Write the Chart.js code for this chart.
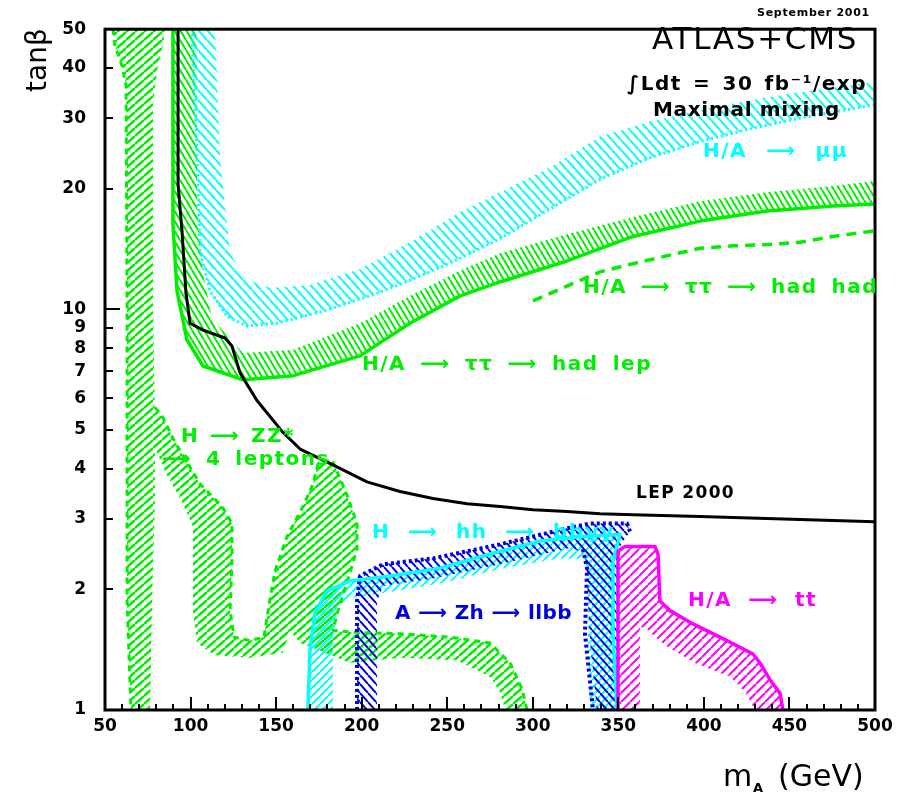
<!DOCTYPE html>
<html>
<head>
<meta charset="utf-8">
<script src="https://cdn.jsdelivr.net/npm/chart.js@4.4.0/dist/chart.umd.min.js"></script>
<style>
  html, body { margin: 0; padding: 0; background: #fff; }
  canvas { display: block; }
</style>
</head>
<body>
<canvas id="plot" width="906" height="794"></canvas>
<script>
// axis ticks
const xTicks = [50, 100, 150, 200, 250, 300, 350, 400, 450, 500];
const yTicks = [1, 2, 3, 4, 5, 6, 7, 8, 9, 10, 20, 30, 40, 50];

// LEP 2000 exclusion
const lepX = [92.7, 92.7, 95.0, 97.3, 99.7, 107.3, 120.1, 124.2, 128.9, 138.8, 154.0, 164.0, 183.2, 203.1, 222.4, 241.7, 261.6, 280.8, 300.1, 320.0, 339.3, 358.6, 397.7, 456.2, 500];
const lepY = [50, 20.5, 15.7, 11.0, 9.23, 8.87, 8.48, 8.10, 6.94, 5.92, 4.93, 4.48, 4.09, 3.71, 3.51, 3.37, 3.27, 3.22, 3.16, 3.13, 3.09, 3.07, 3.04, 2.99, 2.95];

// H/A -> mu mu band (boundary, then far edge)
const muLowX = [100.8, 103.8, 105.5, 111.4, 121.3, 133.0, 150.5, 179.7, 209.0, 238.2, 257.5, 280.8, 310.1, 339.3, 368.5, 397.7, 426.9, 456.2, 500];
const muLowY = [50, 23.9, 14.0, 11.1, 9.6, 9.08, 9.23, 9.95, 10.96, 12.3, 13.4, 15.0, 17.8, 21.1, 23.9, 26.2, 28.2, 30.0, 32.4];
const muHighX = [114.3, 117.2, 123.1, 131.8, 146.4, 169.8, 199.0, 228.2, 257.5, 280.8, 310.1, 339.3, 368.5, 397.7, 426.9, 456.2, 500];
const muHighY = [50, 23.9, 13.8, 11.9, 11.3, 11.5, 12.6, 14.7, 17.5, 19.6, 22.6, 27.0, 29.4, 31.4, 33.3, 34.8, 36.9];

// H/A -> tau tau -> had lep band
const tauLowX = [89.7, 89.7, 92.1, 97.9, 107.3, 130.6, 159.9, 199.0, 228.2, 257.5, 280.8, 320.0, 358.6, 397.7, 436.9, 475.4, 500];
const tauLowY = [50, 16.3, 11.1, 8.38, 7.22, 6.67, 6.83, 7.65, 9.23, 10.8, 11.7, 13.2, 15.2, 16.6, 17.6, 18.1, 18.3];
const tauHighX = [103.8, 103.8, 107.3, 112.5, 130.6, 159.9, 199.0, 228.2, 257.5, 280.8, 320.0, 358.6, 397.7, 436.9, 475.4, 500];
const tauHighY = [50, 18.3, 12.3, 9.5, 7.78, 7.92, 9.23, 10.8, 12.5, 13.8, 15.4, 17.0, 18.6, 19.6, 20.3, 20.9];

// H/A -> tau tau -> had had (dashed)
const tauHadX = [300.1, 323.5, 339.3, 358.6, 378.4, 397.7, 417.0, 436.9, 456.2, 475.4, 500];
const tauHadY = [10.5, 11.6, 12.4, 13.0, 13.6, 14.2, 14.4, 14.5, 14.7, 15.2, 15.7];

// H -> ZZ* -> 4 leptons, low-mass strip
const zzLeftOuterX = [54.7, 55.8, 59.9, 62.3, 62.9, 62.9, 65.2];
const zzLeftOuterY = [50, 45.5, 40.6, 36.2, 10.35, 1.87, 1];
const zzLeftInnerX = [76.3, 77.5, 79.2, 79.2, 78.1, 78.1, 80.4, 83.9, 85.1];
const zzLeftInnerY = [1, 1.87, 3.31, 5.22, 10.35, 32.4, 39.5, 45.5, 50];

// H -> ZZ* -> 4 leptons, U-shaped region
const zzOuterX = [79.2, 83.3, 90.9, 105.5, 118.4, 124.2, 124.2, 123.1, 125.4, 134.7, 142.9, 145.3, 149.3, 156.4, 165.7, 171.6, 174.5, 182.7, 190.3, 197.3, 197.3, 192.0, 186.2, 183.2, 199.0, 222.4, 251.6, 275.0, 286.7, 293.7, 296.6];
const zzOuterY = [5.69, 5.43, 4.66, 3.67, 3.22, 2.92, 2.35, 1.77, 1.52, 1.49, 1.52, 1.77, 2.22, 2.71, 3.22, 3.67, 4.11, 4.21, 3.54, 2.92, 2.52, 2.12, 1.77, 1.58, 1.56, 1.55, 1.52, 1.47, 1.31, 1.13, 1.0];
const zzInnerX = [283.8, 280.8, 275.0, 255.7, 222.4, 193.2, 178.6, 164.0, 158.1, 154.0, 134.7, 114.3, 103.8, 101.4, 101.4, 95.0, 85.1, 79.2];
const zzInnerY = [1.0, 1.11, 1.21, 1.33, 1.35, 1.31, 1.39, 1.47, 1.58, 1.39, 1.35, 1.37, 1.47, 1.77, 2.87, 3.31, 3.93, 4.53];

// H -> hh -> bb gamma gamma
const hhOuterX = [168.6, 169.8, 172.7, 179.7, 193.2, 216.6, 245.8, 275.0, 304.2, 329.3, 351.0, 346.9, 346.9, 349.2];
const hhOuterY = [1, 1.41, 1.75, 1.98, 2.10, 2.16, 2.26, 2.45, 2.64, 2.71, 2.74, 2.35, 1.55, 1];
const hhInnerX = [333.4, 332.3, 332.3, 330.5, 315.9, 280.8, 245.8, 216.6, 193.2, 185.6, 183.2, 183.2];
const hhInnerY = [1, 1.49, 2.16, 2.38, 2.39, 2.25, 2.07, 1.97, 1.90, 1.82, 1.49, 1];

// A -> Zh -> llbb
const zhOuterX = [197.3, 197.3, 199.0, 212.5, 241.7, 280.8, 320.0, 333.4, 355.1, 356.8, 351.0, 349.2, 349.2];
const zhOuterY = [1, 1.87, 2.16, 2.31, 2.39, 2.59, 2.84, 2.92, 2.92, 2.79, 2.56, 1.87, 1];
const zhInnerX = [337.5, 333.4, 331.7, 330.5, 320.0, 280.8, 241.7, 212.5, 209.0, 209.0];
const zhInnerY = [1, 1.49, 2.10, 2.49, 2.53, 2.31, 2.13, 2.04, 1.87, 1];
const zhRightX = [329.3, 331.7, 330.5, 335.2];
const zhRightY = [2.52, 2.26, 1.55, 1];

// H/A -> tt
const ttOuterX = [349.8, 349.8, 353.9, 371.4, 373.2, 374.3, 380.2, 393.6, 413.5, 428.7, 432.8, 438.6, 444.5, 446.2];
const ttOuterY = [1, 2.49, 2.56, 2.56, 2.45, 1.87, 1.77, 1.64, 1.49, 1.38, 1.31, 1.19, 1.10, 1];
const ttInnerX = [429.9, 424.0, 415.2, 394.8, 377.3, 367.3, 362.7, 362.7];
const ttInnerY = [1, 1.11, 1.21, 1.31, 1.45, 1.58, 1.62, 1];

const GREEN = '#00ee00', CYAN = '#00ffff', BLUE = '#0000e6', MAGENTA = '#ff00ff';
const ARROW = '\u27F6';

function pts(xs, ys) { return xs.map((x, i) => ({ x: x, y: ys[i] })); }
function rev(a) { return a.slice().reverse(); }

// diagonal hatch tile; dir 1 = "/", -1 = "\"
function hatch(color, dir, w, h, lw) {
  const c = document.createElement('canvas');
  c.width = w; c.height = h;
  const g = c.getContext('2d');
  g.strokeStyle = color;
  g.lineWidth = lw;
  g.beginPath();
  for (const o of [-w, 0, w]) {
    if (dir > 0) { g.moveTo(o, h); g.lineTo(o + w, 0); }
    else { g.moveTo(o, 0); g.lineTo(o + w, h); }
  }
  g.stroke();
  return g.createPattern(c, 'repeat');
}

function area(label, data, pattern) {
  return { label, data, fill: 'shape', backgroundColor: pattern, borderColor: 'rgba(0,0,0,0)', borderWidth: 0, pointRadius: 0 };
}
function edge(label, data, color, width, dash) {
  return { label, data, fill: false, borderColor: color, borderWidth: width, borderDash: dash || [], pointRadius: 0, borderJoinStyle: 'round' };
}

// stretch a label to the width it has in the original; extra room goes to the spaces
function fitText(ctx, str, x, y, w, font, color, even) {
  ctx.font = font;
  ctx.fillStyle = color;
  ctx.textAlign = 'left';
  ctx.textBaseline = 'middle';
  const n = Array.from(str).length;
  const spaces = (str.match(/ /g) || []).length;
  const m = ctx.measureText(str).width;
  if ('letterSpacing' in ctx) {
    let ls = (w - m) / n, ws = 0;
    if (!even && spaces && 'wordSpacing' in ctx) {
      ls = Math.max(-1, Math.min(1.5, ls));
      ws = (w - m - ls * n) / spaces;
    }
    ctx.letterSpacing = ls.toFixed(2) + 'px';
    if ('wordSpacing' in ctx) ctx.wordSpacing = ws.toFixed(2) + 'px';
    ctx.fillText(str, x, y);
    ctx.letterSpacing = '0px';
    if ('wordSpacing' in ctx) ctx.wordSpacing = '0px';
  } else {
    ctx.save();
    ctx.translate(x, y);
    ctx.scale(w / m, 1);
    ctx.fillText(str, 0, 0);
    ctx.restore();
  }
}

const frame = {
  id: 'frame',
  afterDraw(chart) {
    const { ctx, chartArea: a, scales } = chart;
    const xs = scales.x, ys = scales.y;
    ctx.save();
    ctx.strokeStyle = '#000';
    ctx.lineWidth = 2;
    ctx.beginPath();
    for (let v = xTicks[0]; v <= xTicks[xTicks.length - 1]; v += 10) {
      const px = Math.round(xs.getPixelForValue(v));
      const len = v % 50 === 0 ? 13 : 6;
      ctx.moveTo(px, a.bottom); ctx.lineTo(px, a.bottom - len);
    }
    yTicks.forEach(v => {
      const py = Math.round(ys.getPixelForValue(v));
      const len = v === 10 ? 15 : 8;
      ctx.moveTo(a.left, py); ctx.lineTo(a.left + len, py);
    });
    ctx.stroke();
    ctx.lineWidth = 3;
    ctx.strokeRect(a.left, a.top, a.right - a.left, a.bottom - a.top);

    const F = '"DejaVu Sans", sans-serif';
    const B = 'bold 20px ' + F;
    fitText(ctx, 'September 2001', 757, 13, 113, 'bold 11px ' + F, '#000', true);
    fitText(ctx, 'ATLAS+CMS', 652, 41, 206, '31px ' + F, '#000', true);
    fitText(ctx, '\u222BLdt = 30 fb\u207B\u00B9/exp', 627, 85, 240, B, '#000');
    fitText(ctx, 'Maximal mixing', 653, 111, 187, B, '#000', true);
    fitText(ctx, 'H/A ' + ARROW + ' \u03BC\u03BC', 703, 152, 145, B, CYAN);
    fitText(ctx, 'H/A ' + ARROW + ' \u03C4\u03C4 ' + ARROW + ' had had', 583, 288, 295, B, GREEN);
    fitText(ctx, 'H/A ' + ARROW + ' \u03C4\u03C4 ' + ARROW + ' had lep', 362, 365, 290, B, GREEN);
    fitText(ctx, 'H ' + ARROW + ' ZZ*', 181, 437, 114, B, GREEN);
    fitText(ctx, ARROW + ' 4 leptons', 162, 460, 168, B, GREEN);
    fitText(ctx, 'LEP 2000', 636, 494, 99, 'bold 17px ' + F, '#000');
    fitText(ctx, 'H ' + ARROW + ' hh ' + ARROW + ' bb\u03B3\u03B3', 372, 533, 243, B, CYAN);
    fitText(ctx, 'A ' + ARROW + ' Zh ' + ARROW + ' llbb', 395, 614, 177, B, BLUE);
    fitText(ctx, 'H/A ' + ARROW + ' tt', 688, 601, 129, B, MAGENTA);

    // axis titles
    ctx.fillStyle = '#000';
    ctx.textBaseline = 'alphabetic';
    ctx.textAlign = 'left';
    ctx.font = '30px ' + F;
    ctx.fillText('m', 723, 786);
    ctx.fillText('(GeV)', 778, 786);
    ctx.font = 'bold 13px ' + F;
    ctx.fillText('A', 753, 792);
    ctx.translate(46, 92);
    ctx.rotate(-Math.PI / 2);
    ctx.font = '28px ' + F;
    ctx.fillText('tan\u03B2', 0, 0);
    ctx.restore();
  }
};

const tickFont = { family: '"DejaVu Sans", sans-serif', size: 17, weight: 'bold' };

new Chart(document.getElementById('plot').getContext('2d'), {
  type: 'line',
  data: {
    datasets: [
      edge('LEP 2000', pts(lepX, lepY), '#000', 3),
      edge('H/A -> tt', pts(ttOuterX, ttOuterY), MAGENTA, 3.5),
      edge('H -> hh -> bbgg', pts(hhOuterX, hhOuterY), CYAN, 3.5),
      edge('A -> Zh -> llbb', pts(zhOuterX.slice(0, 10), zhOuterY.slice(0, 10)), BLUE, 4, [3, 3]),
      edge('A -> Zh -> llbb (right)', pts(zhRightX, zhRightY), BLUE, 4, [3, 3]),
      edge('H/A -> tautau had lep', pts(tauLowX, tauLowY), GREEN, 3.5),
      edge('H/A -> tautau had had', pts(tauHadX, tauHadY), GREEN, 3.5, [10, 7]),
      edge('H/A -> mumu', pts(muLowX, muLowY), CYAN, 3, [2, 3]),
      edge('H -> ZZ* edge', pts(zzOuterX, zzOuterY), GREEN, 3, [6, 5]),
      edge('H -> ZZ* strip edge', pts(zzLeftOuterX, zzLeftOuterY), GREEN, 3, [6, 5]),
      area('tt band', pts(ttOuterX.concat(ttInnerX), ttOuterY.concat(ttInnerY)), hatch(MAGENTA, 1, 9, 9, 2)),
      area('Zh band', pts(zhOuterX.concat(zhInnerX), zhOuterY.concat(zhInnerY)), hatch(BLUE, -1, 8, 9, 2)),
      area('hh band', pts(hhOuterX.concat(hhInnerX), hhOuterY.concat(hhInnerY)), hatch(CYAN, 1, 8, 8, 2)),
      area('mumu band', pts(muLowX.concat(rev(muHighX)), muLowY.concat(rev(muHighY))), hatch(CYAN, -1, 9, 10, 2)),
      area('tautau band', pts(tauLowX.concat(rev(tauHighX)), tauLowY.concat(rev(tauHighY))), hatch(GREEN, -1, 6, 10, 2)),
      area('ZZ band', pts(zzOuterX.concat(zzInnerX), zzOuterY.concat(zzInnerY)), hatch(GREEN, 1, 9, 8, 2.5)),
      area('ZZ strip', pts(zzLeftOuterX.concat(zzLeftInnerX), zzLeftOuterY.concat(zzLeftInnerY)), hatch(GREEN, 1, 9, 8, 2.5))
    ]
  },
  options: {
    responsive: false,
    devicePixelRatio: 1,
    animation: false,
    layout: { padding: { top: 23, right: 31, left: 0, bottom: 0 } },
    plugins: { legend: { display: false }, tooltip: { enabled: false } },
    elements: { line: { tension: 0 }, point: { radius: 0 } },
    scales: {
      x: {
        type: 'linear', min: 50, max: 500,
        border: { display: false }, grid: { display: false, drawTicks: false, tickLength: 0 },
        ticks: { font: tickFont, color: '#000', padding: 6, maxRotation: 0, autoSkip: false },
        afterBuildTicks: s => { s.ticks = xTicks.map(v => ({ value: v })); },
        afterFit: s => { s.height = 84; }
      },
      y: {
        type: 'logarithmic', min: 1, max: 50,
        border: { display: false }, grid: { display: false, drawTicks: false, tickLength: 0 },
        ticks: { font: tickFont, color: '#000', padding: 19, autoSkip: false, callback: v => String(v) },
        afterBuildTicks: s => { s.ticks = yTicks.map(v => ({ value: v })); },
        afterFit: s => { s.width = 105; }
      }
    }
  },
  plugins: [frame]
});
</script>
</body>
</html>
